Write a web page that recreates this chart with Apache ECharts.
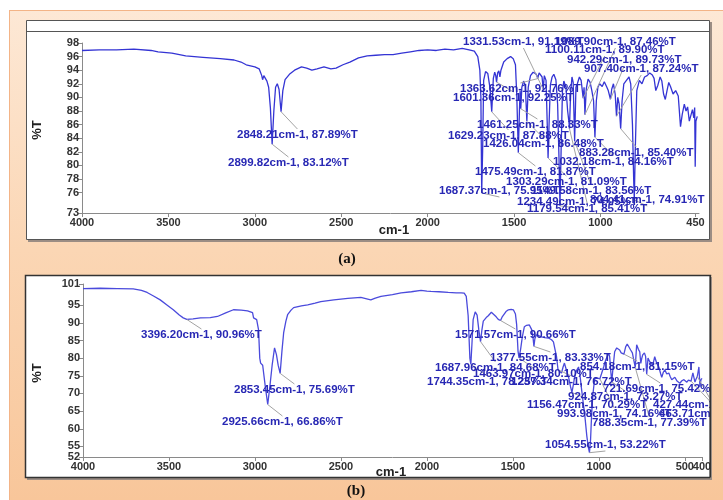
<!DOCTYPE html>
<html><head><meta charset="utf-8">
<script src="https://cdn.jsdelivr.net/npm/echarts@6/dist/echarts.min.js"></script>
<style>html,body{margin:0;padding:0;background:#fff}#c{width:723px;height:500px}</style>
</head><body><div id="c"></div>
<script>
// ---------- DATA ----------
// Panel (a): wavenumber (cm-1), %T
const spectrumA = [[4000,96.9],[3900,97.0],[3800,97.0],[3700,97.1],[3600,96.9],[3560,96.7],[3480,96.5],[3400,96.1],[3300,95.9],[3200,95.7],[3120,95.5],[3080,95.2],[3050,94.8],[3000,94.5],[2975,94.2],[2960,93.2],[2955,92.6],[2948,93.2],[2940,93.0],[2930,92.4],[2920,91.5],[2910,88.5],[2899.82,83.12],[2890,88.0],[2880,91.5],[2870,92.0],[2860,91.2],[2848.21,87.89],[2838,91.0],[2825,92.6],[2800,93.4],[2770,94.0],[2730,94.5],[2700,94.3],[2670,94.0],[2640,94.2],[2600,94.5],[2560,94.2],[2530,94.3],[2490,94.8],[2450,95.2],[2400,95.8],[2350,96.1],[2300,96.2],[2250,96.3],[2200,96.3],[2150,96.5],[2100,96.7],[2050,96.9],[2000,97.0],[1950,96.9],[1900,97.1],[1850,97.0],[1800,97.2],[1760,97.0],[1730,96.8],[1710,96.0],[1698,94.0],[1692,90.0],[1687.37,75.95],[1682,82.0],[1676,92.5],[1665,93.8],[1652,93.5],[1640,91.5],[1629.23,87.88],[1620,92.8],[1612,93.7],[1606,93.2],[1601.36,92.25],[1595,93.6],[1588,93.9],[1582,93.0],[1576,94.0],[1560,95.2],[1540,95.7],[1520,96.0],[1505,95.7],[1492,94.8],[1484,90.0],[1475.49,81.87],[1469,88.0],[1465,91.0],[1461.25,88.33],[1455,91.5],[1445,92.4],[1435,91.8],[1426.04,86.48],[1418,91.5],[1405,93.2],[1390,93.7],[1375,93.5],[1368,93.2],[1363.62,92.76],[1355,93.6],[1345,93.8],[1338,93.0],[1331.53,91.19],[1325,93.2],[1315,92.5],[1308,86.0],[1303.29,81.09],[1297,86.5],[1290,91.8],[1280,93.0],[1270,93.4],[1258,92.6],[1248,89.0],[1240,81.0],[1234.49,74.05],[1228,82.0],[1220,91.0],[1212,92.4],[1200,91.5],[1190,88.0],[1183,86.5],[1179.54,85.41],[1173,90.5],[1165,93.0],[1158,92.2],[1149.58,83.56],[1142,91.5],[1134,92.0],[1122,93.0],[1112,92.5],[1100.11,89.90],[1095,91.5],[1089.90,87.46],[1082,91.3],[1072,92.7],[1060,92.2],[1050,91.0],[1040,89.5],[1032.18,84.16],[1024,89.5],[1015,91.5],[1005,92.0],[990,91.6],[978,92.3],[965,91.6],[955,91.0],[942.29,89.73],[935,91.2],[925,92.0],[915,90.5],[907.40,87.24],[900,90.0],[892,89.0],[883.28,85.40],[875,89.5],[865,92.0],[850,92.5],[835,93.0],[825,92.0],[815,86.0],[808,78.0],[804.41,74.91],[799,82.0],[790,91.0],[775,92.5],[760,92.0],[745,93.0],[730,93.2],[715,93.6],[700,93.3],[690,92.8],[680,91.0],[668,91.8],[655,93.0],[645,92.4],[635,90.5],[625,89.7],[615,91.0],[605,92.2],[595,91.6],[580,90.5],[565,91.0],[550,90.2],[537,85.7],[527,87.5],[515,89.0],[505,88.0],[496,88.6],[486,86.5],[478,86.3],[468,88.2],[460,87.0],[455,88.5],[452,79.8],[448,86.5],[440,87.2]];
const peakWnA = [2899.82,2848.21,1687.37,1629.23,1601.36,1475.49,1461.25,1426.04,1363.62,1331.53,1303.29,1234.49,1179.54,1149.58,1100.11,1089.90,1032.18,942.29,907.40,883.28,804.41];
const peakTA  = [83.12,87.89,75.95,87.88,92.25,81.87,88.33,86.48,92.76,91.19,81.09,74.05,85.41,83.56,89.90,87.46,84.16,89.73,87.24,85.40,74.91];
const yTicksA = [73,76,78,80,82,84,86,88,90,92,94,96,98];
const xTicksA = [4000,3500,3000,2500,2000,1500,1000,450];

// Panel (b)
const spectrumB = [[4000,99.7],[3900,99.8],[3800,99.7],[3708,99.6],[3660,99.2],[3627,98.6],[3590,97.6],[3551,96.5],[3510,95.0],[3475,93.7],[3440,92.2],[3417,91.4],[3396.20,90.96],[3360,91.1],[3317,91.4],[3260,91.5],[3218,91.8],[3170,92.8],[3125,93.7],[3080,93.6],[3043,93.4],[3014,92.9],[3008,91.4],[2990,90.9],[2979,88.0],[2972,80.0],[2967,78.6],[2955,78.0],[2940,72.0],[2925.66,66.86],[2912,72.5],[2900,78.0],[2886,82.9],[2875,81.0],[2865,78.0],[2853.45,75.69],[2843,82.0],[2833,87.2],[2820,90.5],[2810,92.3],[2790,93.6],[2775,94.3],[2730,94.8],[2693,95.1],[2650,95.6],[2617,96.0],[2541,96.5],[2460,96.9],[2384,97.2],[2350,96.8],[2326,96.5],[2300,97.0],[2267,97.5],[2200,98.0],[2150,98.5],[2090,98.8],[2034,99.2],[2000,99.0],[1976,98.9],[1930,98.8],[1876,98.6],[1830,98.5],[1801,98.5],[1783,98.4],[1771,97.5],[1760,92.0],[1750,80.0],[1744.35,78.25],[1738,84.0],[1731,90.9],[1719,93.1],[1708,92.2],[1698,88.0],[1687.96,84.68],[1680,88.0],[1672,90.5],[1655,91.5],[1643,92.0],[1625,93.0],[1614,93.1],[1597,91.7],[1585,91.0],[1571.57,90.66],[1563,91.6],[1556,92.0],[1540,93.2],[1526,93.7],[1510,93.8],[1497,93.7],[1485,92.5],[1478,89.5],[1470,82.0],[1463.97,80.10],[1455,82.5],[1445,86.0],[1433,88.9],[1420,89.3],[1404,89.4],[1390,88.0],[1382,85.5],[1377.55,83.33],[1372,85.5],[1363,86.6],[1350,86.4],[1334,86.0],[1315,85.8],[1293,85.7],[1275,85.2],[1264,84.6],[1255,82.5],[1246,80.4],[1237.34,76.72],[1228,77.0],[1217,75.8],[1208,77.5],[1200,78.6],[1188,76.5],[1176,74.6],[1165,72.0],[1156.47,70.29],[1148,72.5],[1141,74.6],[1130,76.5],[1118,77.5],[1108,74.5],[1100,71.0],[1090,67.0],[1083,64.5],[1070,58.0],[1062,55.0],[1054.55,53.22],[1048,57.0],[1042,64.0],[1035,69.5],[1025,73.9],[1015,74.5],[1005,74.8],[993.98,74.16],[985,75.5],[972,77.5],[960,79.5],[950,80.6],[943,81.4],[937,80.4],[930,76.0],[924.87,73.27],[918,77.0],[908,81.8],[896,82.9],[879,82.3],[870,81.5],[862,82.0],[854.18,81.15],[844,83.2],[835,84.0],[826,84.3],[815,82.3],[805,81.5],[797,81.8],[788.35,77.39],[780,83.8],[770,82.5],[762,81.8],[756,78.5],[750,80.0],[745,80.9],[735,81.5],[728,80.5],[721.69,75.42],[714,80.0],[704,79.0],[695,79.5],[686,78.0],[675,80.4],[663,78.5],[651,77.5],[640,75.5],[634,74.6],[625,76.0],[616,76.7],[605,75.5],[593,75.8],[585,74.8],[576,73.9],[567,74.2],[558,74.6],[545,73.5],[529,72.9],[517,73.6],[505,73.9],[495,73.5],[488,73.2],[479,73.8],[471,74.3],[463.71,73.50],[453,75.8],[441,73.2],[435,74.0],[427.44,74.80],[418,77.5],[412,71.9],[406,73.9],[400,74.3]];
const peakWnB = [3396.20,2925.66,2853.45,1744.35,1687.96,1571.57,1463.97,1377.55,1237.34,1156.47,1054.55,993.98,924.87,854.18,788.35,721.69,463.71,427.44];
const peakTB  = [90.96,66.86,75.69,78.25,84.68,90.66,80.10,83.33,76.72,70.29,53.22,74.16,73.27,81.15,77.39,75.42,73.50,74.80];
const yTicksB = [55,60,65,70,75,80,85,90,95,101];
const yEdgeTicksB = [52];
const xTicksB = [4000,3500,3000,2500,2000,1500,1000,500];
const xEdgeTicksB = [400];

// ---------- LAYOUT (annotation text anchors, px: left, middle) ----------
const labelPosA = [[228,163],[237,135],[439,191],[448,136],[453,98],[475,172],[477,125],[483,144],[460,89],[463,42],[506,182],[517,202],[527,209],[531,191],[545,50],[555,42],[553,162],[567,60],[584,69],[579,153],[590,200]];
const labelPosB = [[141,335],[222,422],[234,390],[427,382],[435,368],[455,335],[473,374],[490,358],[511,382],[527,405],[545,445],[557,414],[568,397],[580,367],[592,423],[603,389],[659,414],[653,405]];

const chart = echarts.init(document.getElementById('c'));
const TICKFONT = 'Liberation Sans';
const ANNFONT = 'bold 11.5px "Liberation Sans"';
const plain = function(v){ return String(v); };

function xAxisDef(grid, min, max, ticks, showLine){
  return {gridIndex:grid, type:'value', position:'bottom', offset:0, inverse:true, min:min, max:max,
    axisLine:{show:showLine, lineStyle:{color:'#8a8a8a', width:1}},
    axisTick:{show:true, length:4, customValues:ticks, lineStyle:{color:'#8a8a8a'}},
    axisLabel:{customValues:ticks, formatter:plain,
      color:'#333', fontFamily:TICKFONT, fontWeight:'bold', fontSize:11, margin:4},
    splitLine:{show:false}};
}
function yAxisDef(grid, min, max, ticks, showLine){
  return {gridIndex:grid, type:'value', position:'left', offset:0, min:min, max:max,
    axisLine:{show:showLine, lineStyle:{color:'#8a8a8a', width:1}},
    axisTick:{show:true, length:4, customValues:ticks, lineStyle:{color:'#8a8a8a'}},
    axisLabel:{customValues:ticks, formatter:plain,
      color:'#333', fontFamily:TICKFONT, fontWeight:'bold', fontSize:11, margin:3},
    splitLine:{show:false}};
}

chart.setOption({
  animation:false,
  grid:[{left:82, right:24, top:43, bottom:287},{left:83, right:21, top:284, bottom:43}],
  xAxis:[xAxisDef(0,430,4000,xTicksA,true), xAxisDef(1,400,4000,xTicksB,true), xAxisDef(1,400,4000,xEdgeTicksB,false)],
  yAxis:[yAxisDef(0,73,98,yTicksA,true), yAxisDef(1,52,101,yTicksB,true), yAxisDef(1,52,101,yEdgeTicksB,false)],
  series:[
    {type:'line', xAxisIndex:0, yAxisIndex:0, data:spectrumA, symbol:'none', z:3,
     lineStyle:{color:'#3434d4', width:1.3}},
    {type:'line', xAxisIndex:1, yAxisIndex:1, data:spectrumB, symbol:'none', z:3,
     lineStyle:{color:'#4a4adc', width:1.3}}
  ]
});

const ctx = document.createElement('canvas').getContext('2d');
ctx.font = ANNFONT;
const gbg = {type:'linear', x:0, y:0, x2:0, y2:500, global:true,
  colorStops:[{offset:0, color:'#fde9d7'},{offset:0.5, color:'#fbd6b4'},{offset:1, color:'#f8c69a'}]};

const els = [
  {type:'rect', z:-20, silent:true, shape:{x:9, y:10, width:714, height:490}, style:{fill:gbg}},
  {type:'line', z:-19, silent:true, shape:{x1:9, y1:10.5, x2:723, y2:10.5}, style:{stroke:'#f3b487', lineWidth:1}},
  {type:'line', z:-19, silent:true, shape:{x1:9.5, y1:10, x2:9.5, y2:500}, style:{stroke:'#f3b487', lineWidth:1}},
  // panel (a) box
  {type:'rect', z:-12, silent:true, shape:{x:28, y:22, width:684, height:220}, style:{fill:'#9b8d84'}},
  {type:'rect', z:-10, silent:true, shape:{x:26.5, y:20.5, width:683, height:219}, style:{fill:'#fff', stroke:'#555', lineWidth:1}},
  {type:'line', z:-9, silent:true, shape:{x1:26.5, y1:31.5, x2:709.5, y2:31.5}, style:{stroke:'#555', lineWidth:1}},
  // panel (b) box
  {type:'rect', z:-12, silent:true, shape:{x:27, y:277, width:686, height:203}, style:{fill:'#9b8d84'}},
  {type:'rect', z:-10, silent:true, shape:{x:25.5, y:275.5, width:685, height:202}, style:{fill:'#fff', stroke:'#333', lineWidth:1.5}},
  // titles
  {type:'text', z:6, silent:true, x:347, y:259, style:{text:'(a)', font:'bold 15px "Liberation Serif"', fill:'#111', align:'center', verticalAlign:'middle'}},
  {type:'text', z:6, silent:true, x:356, y:491, style:{text:'(b)', font:'bold 15px "Liberation Serif"', fill:'#111', align:'center', verticalAlign:'middle'}},
  {type:'text', z:6, silent:true, x:394, y:230, style:{text:'cm-1', font:'bold 13px "Liberation Sans"', fill:'#222', align:'center', verticalAlign:'middle'}},
  {type:'text', z:6, silent:true, x:391, y:472, style:{text:'cm-1', font:'bold 13px "Liberation Sans"', fill:'#222', align:'center', verticalAlign:'middle'}},
  {type:'text', z:6, silent:true, x:37, y:130, rotation:Math.PI/2, style:{text:'%T', font:'bold 13px "Liberation Sans"', fill:'#222', align:'center', verticalAlign:'middle'}},
  {type:'text', z:6, silent:true, x:37, y:373, rotation:Math.PI/2, style:{text:'%T', font:'bold 13px "Liberation Sans"', fill:'#222', align:'center', verticalAlign:'middle'}}
];

function addAnnotations(grid, wns, ts, pos){
  wns.forEach(function(w, i){
    const p = chart.convertToPixel({gridIndex:grid}, [w, ts[i]]);
    const txt = w.toFixed(2) + 'cm-1, ' + ts[i].toFixed(2) + '%T';
    const lx = pos[i][0], ly = pos[i][1];
    const wd = ctx.measureText(txt).width;
    const ey = p[1] > ly ? ly + 6 : ly - 6;
    els.push({type:'line', z:5, silent:true, shape:{x1:p[0], y1:p[1], x2:lx + wd/2, y2:ey}, style:{stroke:'#a3a3a3', lineWidth:1}});
    els.push({type:'text', z:7, silent:true, x:lx, y:ly, style:{text:txt, font:ANNFONT, fill:'#2828b4', align:'left', verticalAlign:'middle'}});
  });
}
addAnnotations(0, peakWnA, peakTA, labelPosA);
addAnnotations(1, peakWnB, peakTB, labelPosB);

// clip text overflowing panel (b) frame
els.push({type:'rect', z:20, silent:true, shape:{x:711.5, y:276, width:12, height:205}, style:{fill:gbg}});
els.push({type:'line', z:21, silent:true, shape:{x1:711, y1:277, x2:711, y2:480}, style:{stroke:'#9b8d84', lineWidth:2}});
els.push({type:'line', z:22, silent:true, shape:{x1:710.25, y1:275.5, x2:710.25, y2:477.5}, style:{stroke:'#333', lineWidth:1.5}});

chart.setOption({graphic:{elements:els}});
</script></body></html>
